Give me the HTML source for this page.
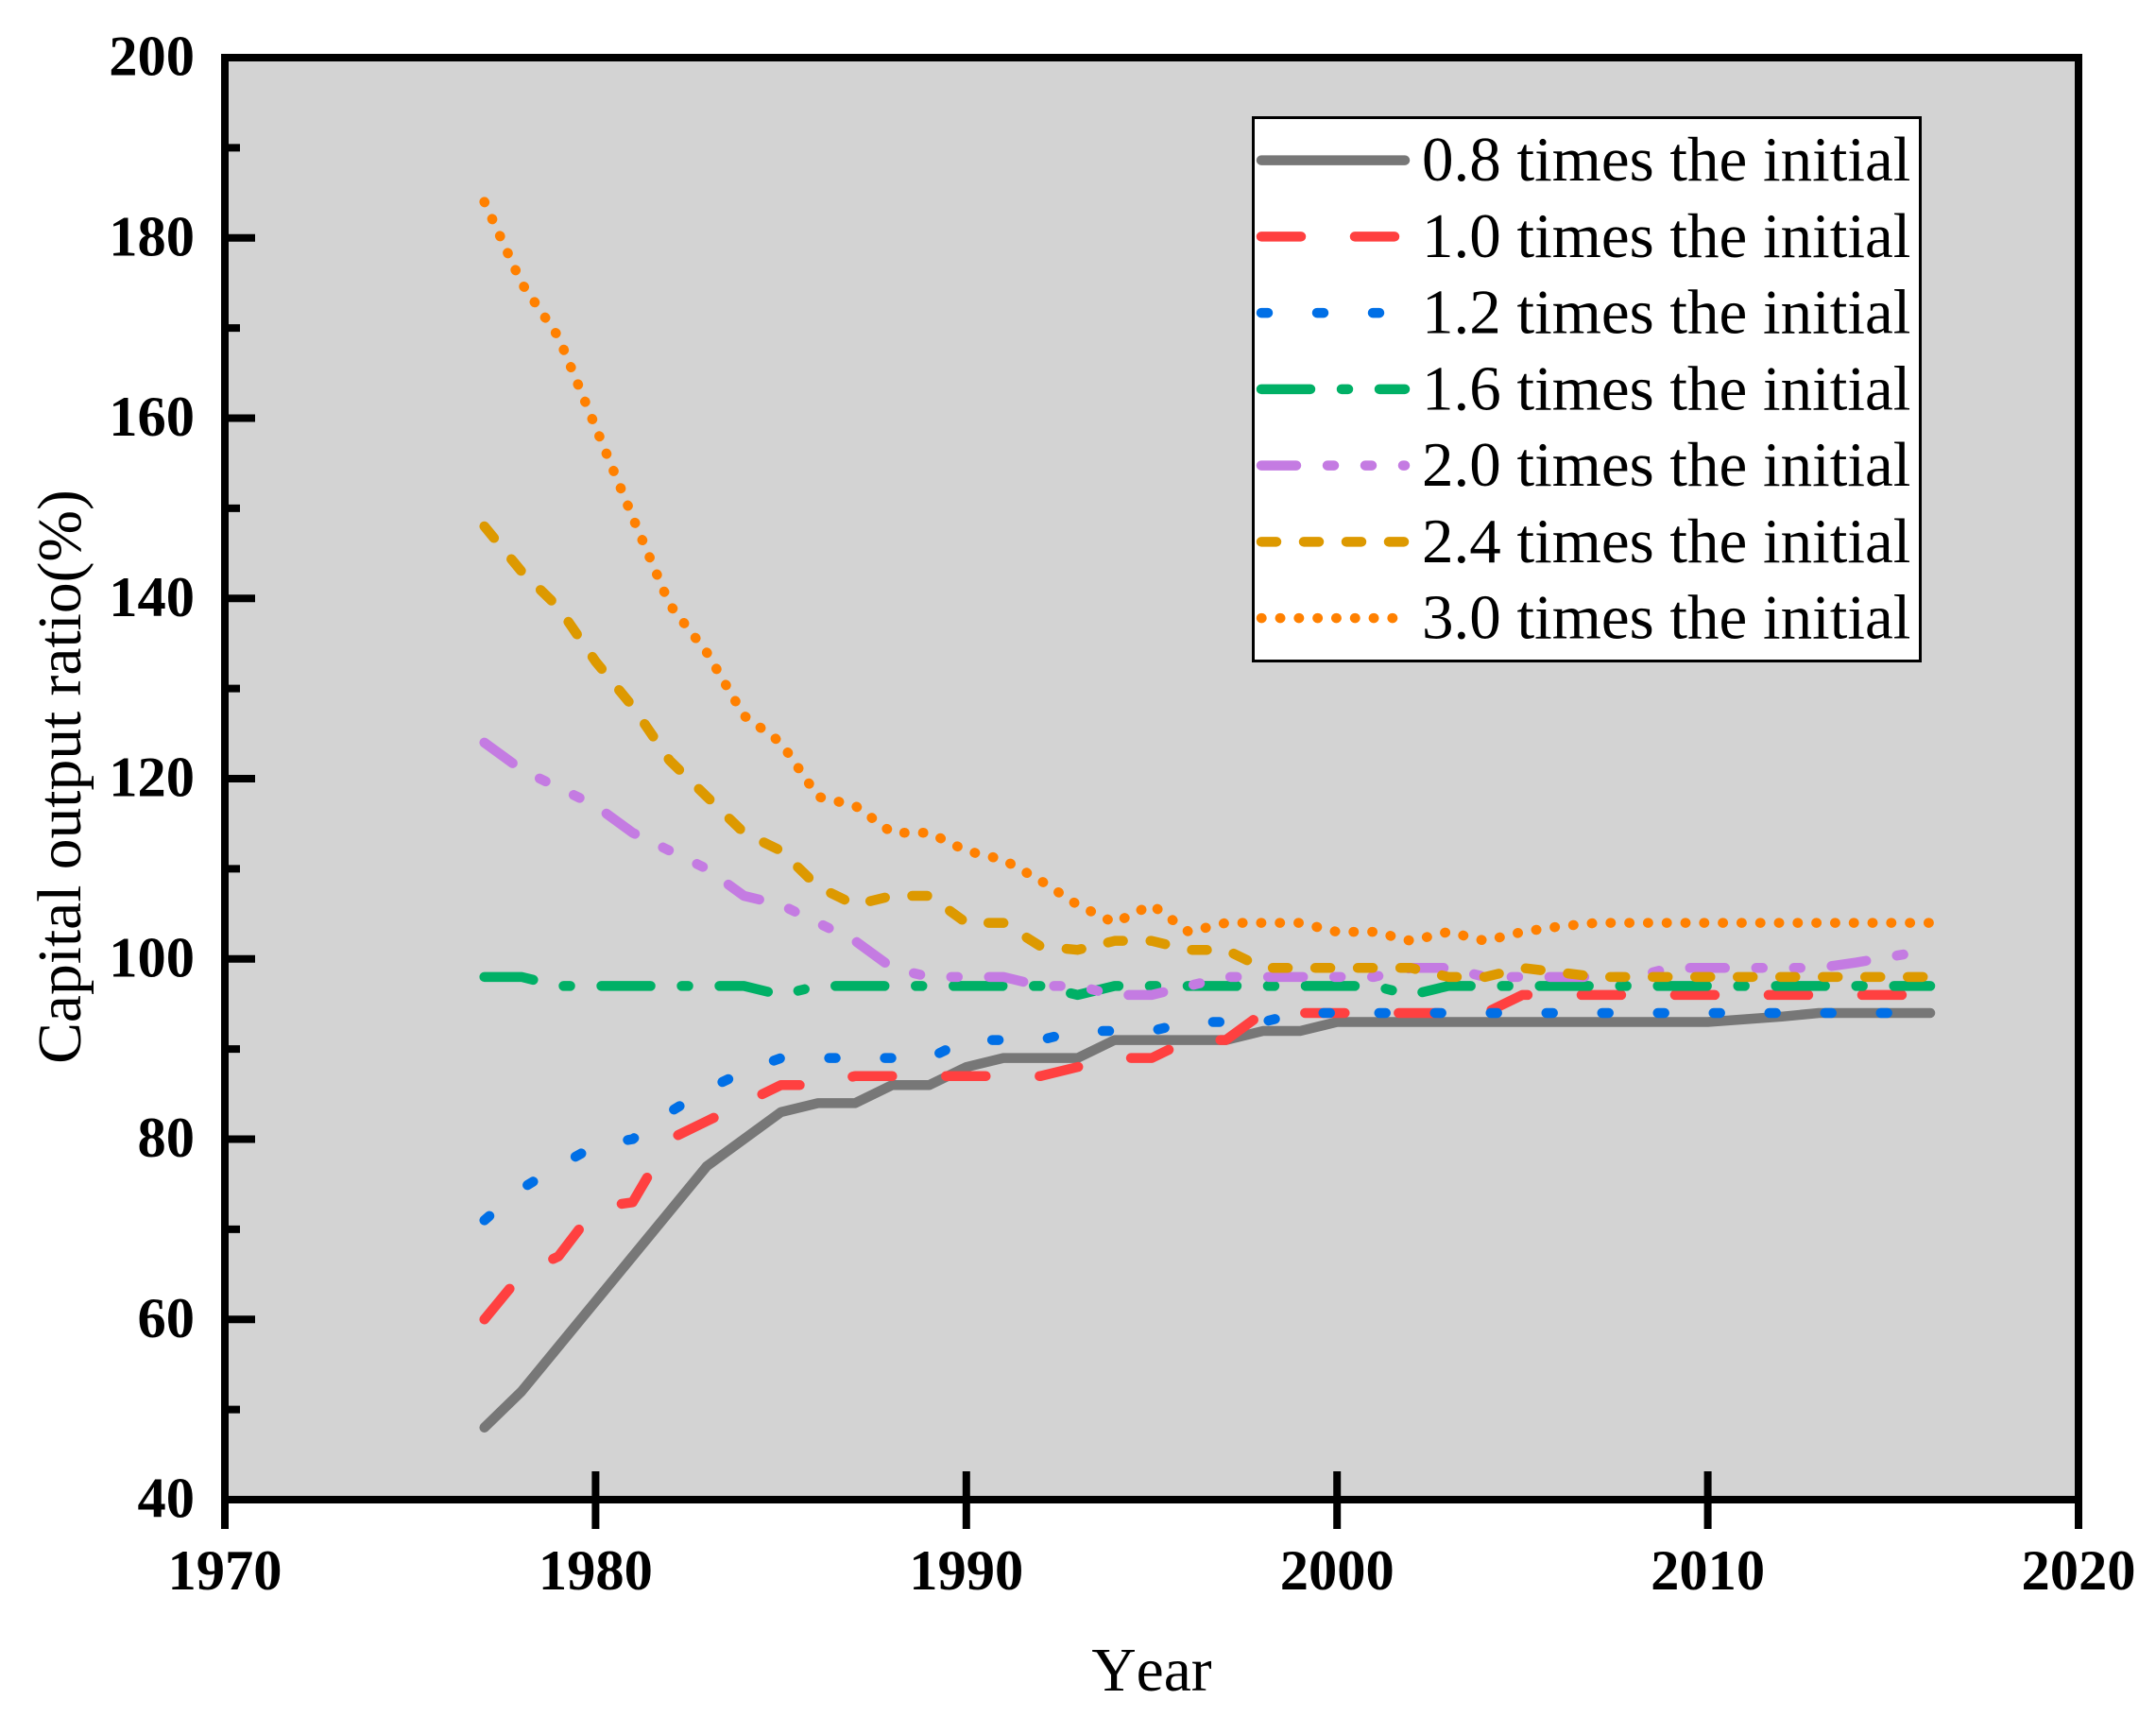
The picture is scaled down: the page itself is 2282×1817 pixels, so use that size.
<!DOCTYPE html>
<html lang="en">
<head>
<meta charset="utf-8">
<title>Capital output ratio by year</title>
<style>
html,body{margin:0;padding:0;background:#fff;}
svg{display:block;}
text{font-family:"Liberation Serif",serif;fill:#000;font-kerning:none;}
.tick{font-weight:bold;font-size:60.5px;}
.title{font-size:65.5px;}
.leg{font-size:67px;}
</style>
</head>
<body>
<svg id="chart" xmlns="http://www.w3.org/2000/svg" width="2282" height="1817" viewBox="0 0 2282 1817">
  <rect x="0" y="0" width="2282" height="1817" fill="#ffffff"/>
  <rect x="238" y="61" width="1962" height="1526" fill="#D3D3D3"/>
  <g id="series"></g>
  <g id="ticks"></g>
  <rect x="238" y="61" width="1962" height="1526" fill="none" stroke="#000" stroke-width="8"/>
  <text class="title" x="1219" y="1789" text-anchor="middle">Year</text>
  <text class="title" transform="translate(85,822) rotate(-90)" text-anchor="middle">Capital output ratio(%)</text>
  <rect x="1326.5" y="124.5" width="706" height="575" fill="#fff" stroke="#000" stroke-width="3"/>
  <g id="legend"></g>
</svg>
<script>
const years = [1977,1978,1979,1980,1981,1982,1983,1984,1985,1986,1987,1988,1989,1990,1991,1992,1993,1994,1995,1996,1997,1998,1999,2000,2001,2002,2003,2004,2005,2006,2007,2008,2009,2010,2011,2012,2013,2014,2015,2016];
const seriesGray   = [48,52,57,62,67,72,77,80,83,84,84,86,86,88,89,89,89,91,91,91,91,92,92,93,93,93,93,93,93,93,93,93,93,93,93.3,93.6,94,94,94,94];
const seriesRed    = [60,65,67,72.4,73,80,82,84,86,86,87,87,87,87,87,87,88,89,89,91,91,94,94,94,94,94,94,94,96,96,96,96,96,96,96,96,96,96,96,96];
const seriesBlue   = [71,74.5,77,79.3,80,83,85.5,87.5,89,89,89,89,89,91,91,91,92,92,92,93,93,93,94,94,94,94,94,94,94,94,94,94,94,94,94,94,94,94,94,94];
const seriesGreen  = [98,98,97,97,97,97,97,97,96,97,97,97,97,97,97,97,96,97,97,97,97,97,97,97,97,96,97,97,97,97,97,97,97,97,97,97,97,97,97,97];
const seriesPurple = [124,121,119,117,114,112,110,107,106,104,102,99,98,98,98,97,97,96,96,97,98,98,98,98,98,99,99,98,98,98,98,98,99,99,99,99,99,99.6,100.3,101];
const seriesGold   = [148,143,139,133,128,122,118,114,112,108,106,107,107,104,104,101.4,101,102,102,101,101,99,99,99,99,99,98,98,99,98.5,98,98,98,98,98,98,98,98,98,98];
const seriesOrange = [184,175,169,159,149,139.3,134,127,124,118,117,114,114,112,111,108.7,106,104,106,103,104,104,104,103,103,102,103,102,103,103.6,104,104,104,104,104,104,104,104,104,104];
const xTickLabels = [1970,1980,1990,2000,2010,2020];
const yTickLabels = [40,60,80,100,120,140,160,180,200];
const yMinorTicks = [50,70,90,110,130,150,170,190];
const legendLabels = ["0.8 times the initial","1.0 times the initial","1.2 times the initial","1.6 times the initial","2.0 times the initial","2.4 times the initial","3.0 times the initial"];

const NS = "http://www.w3.org/2000/svg";
const xScale = v => 238 + (v - 1970) * (2200 - 238) / 50;
const yScale = v => 1587 - (v - 40) * (1587 - 61) / 160;
const styles = [
  {values: seriesGray,   color: "#777777", dash: "none",                  id: "0-8-times"},
  {values: seriesRed,    color: "#FF4040", dash: "42 57",                 id: "1-0-times"},
  {values: seriesBlue,   color: "#006FE6", dash: "7 52",                  id: "1-2-times"},
  {values: seriesGreen,  color: "#00B066", dash: "52 33 7 33",            id: "1-6-times"},
  {values: seriesPurple, color: "#C47BE2", dash: "37 33 7 33 7 33",       id: "2-0-times"},
  {values: seriesGold,   color: "#DD9900", dash: "16 29",                 id: "2-4-times"},
  {values: seriesOrange, color: "#FF8000", dash: "0.5 19.3",              id: "3-0-times"}
];
const seriesGroup = document.getElementById("series");
const tickGroup = document.getElementById("ticks");
const legendGroup = document.getElementById("legend");

function make(tag, attrs, parent, txt) {
  const el = document.createElementNS(NS, tag);
  for (const k in attrs) el.setAttribute(k, attrs[k]);
  if (txt !== undefined) el.textContent = txt;
  parent.appendChild(el);
  return el;
}

styles.forEach(s => {
  const pts = s.values.map((v, i) => xScale(years[i]).toFixed(2) + "," + yScale(v).toFixed(2)).join(" ");
  const line = make("polyline", {points: pts, fill: "none", stroke: s.color, "stroke-width": 10.5, "stroke-linecap": "round", "stroke-linejoin": "round", "stroke-dasharray": s.dash}, seriesGroup);
  
  
});

xTickLabels.forEach(v => {
  const t = make("line", {x1: xScale(v), x2: xScale(v), y1: 1557, y2: 1618, stroke: "#000", "stroke-width": 8}, tickGroup);
  
  
  const l = make("text", {x: xScale(v), y: 1682, "text-anchor": "middle", class: "tick"}, tickGroup, String(v));
  
  
});
yTickLabels.forEach(v => {
  const t = make("line", {x1: 238, x2: 270, y1: yScale(v), y2: yScale(v), stroke: "#000", "stroke-width": 8}, tickGroup);
  
  
  const l = make("text", {x: 206, y: yScale(v) + 18.5, "text-anchor": "end", class: "tick"}, tickGroup, String(v));
  
  
});
yMinorTicks.forEach(v => {
  const t = make("line", {x1: 238, x2: 254, y1: yScale(v), y2: yScale(v), stroke: "#000", "stroke-width": 8}, tickGroup);
  
  
});

styles.forEach((s, i) => {
  const y = 169.6 + i * 80.75;
  const sample = make("line", {x1: 1335, x2: 1487, y1: y, y2: y, stroke: s.color, "stroke-width": 10.5, "stroke-linecap": "round", "stroke-dasharray": s.dash}, legendGroup);
  
  
  const label = make("text", {x: 1505, y: y + 21.5, class: "leg"}, legendGroup, legendLabels[i]);
  
  
});
</script>
</body>
</html>
